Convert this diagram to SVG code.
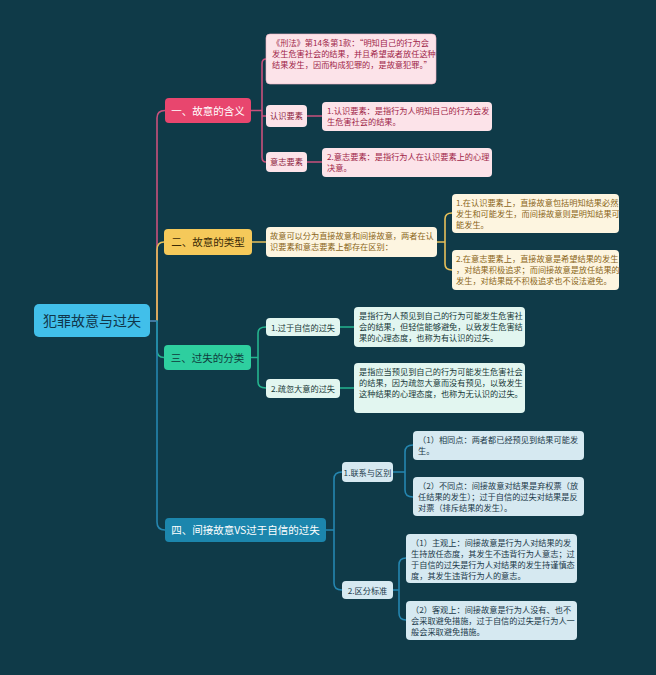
<svg xmlns="http://www.w3.org/2000/svg" width="656" height="675" viewBox="0 0 656 675">
<style>
text{font-family:"Noto Sans CJK SC","Noto Sans",sans-serif}
.c{fill:none;stroke-linecap:round;stroke-linejoin:round}
.pk{stroke:#c9507c;stroke-width:1.6}
.yl{stroke:#e6c05a;stroke-width:1.6}
.gr{stroke:#25b48e;stroke-width:1.6}
.bl{stroke:#2586b0;stroke-width:1.6}
.t{font-size:8.2px}
.m{font-size:10.5px}
</style>
<rect width="656" height="675" fill="#0f3a48"/>
<g id="connectors">
<path class="c pk" d="M150,321 H157 M157,321 V118 Q157,110.5 165,110.5"/>
<path class="c yl" d="M157,321 V250 Q157,242 164,242"/>
<path class="c gr" d="M157,321 V350 Q157,357.5 164,357.5"/>
<path class="c bl" d="M150,321 H157 M157,321 V522 Q157,530 165,530"/>
<path class="c pk" d="M251,110.5 H262 M262,110.5 V64 Q262,59 266,59 M262,110.5 V116 H266 M262,110.5 V157 Q262,162 266,162 M307,116 H322 M307,162 H322"/>
<path class="c yl" d="M252,242 H266 M437,242 H445 M445,242 V219 Q445,213 452,213 M445,242 V264 Q445,270 452,270"/>
<path class="c gr" d="M251,357.5 H258 M258,357.5 V333 Q258,327 266,327 M258,357.5 V382 Q258,388 266,388 M340,327 H354 M340,388 H354"/>
<path class="c bl" d="M326,530 H334 M334,530 V479 Q334,472 342,472 M334,530 V583 Q334,590 342,590 M393,472 H405 M405,472 V452 Q405,445 413,445 M405,472 V490 Q405,497 413,497 M393,590 H399 M399,590 V565 Q399,558 406,558 M399,590 V613 Q399,620 406,620"/>
</g>
<g id="root">
<rect x="34" y="304" width="116" height="33" rx="5" fill="#41bfea"/>
<text x="92" y="326" font-size="14" fill="#10364a" text-anchor="middle">犯罪故意与过失</text>
</g>
<g id="n1">
<rect x="165" y="98" width="86" height="25" rx="4" fill="#e8466e"/>
<text x="208" y="114.5" class="m" fill="#ffffff" text-anchor="middle">一、故意的含义</text>
</g>
<g id="n1-law">
<rect x="266" y="34" width="170" height="50" rx="4" fill="#fce3e9" stroke="#f3b6c6" stroke-width="0.6"/>
<text class="t" fill="#a01f48"><tspan x="272" y="46">《刑法》第14条第1款：“明知自己的行为会</tspan><tspan x="272" y="57">发生危害社会的结果，并且希望或者放任这种</tspan><tspan x="272" y="68">结果发生，因而构成犯罪的，是故意犯罪。”</tspan></text>
</g>
<g id="n1-a">
<rect x="266" y="105" width="41" height="22" rx="4" fill="#fce3e9"/>
<text x="286.5" y="119" class="t" fill="#8c1d40" text-anchor="middle">认识要素</text>
</g>
<g id="n1-a1">
<rect x="322" y="102" width="170" height="29" rx="4" fill="#fce3e9"/>
<text class="t" fill="#a01f48"><tspan x="327" y="114">1.认识要素：是指行为人明知自己的行为会发</tspan><tspan x="327" y="125">生危害社会的结果。</tspan></text>
</g>
<g id="n1-b">
<rect x="266" y="152" width="41" height="20" rx="4" fill="#fce3e9"/>
<text x="286.5" y="165" class="t" fill="#8c1d40" text-anchor="middle">意志要素</text>
</g>
<g id="n1-b1">
<rect x="322" y="148" width="170" height="29" rx="4" fill="#fce3e9"/>
<text class="t" fill="#a01f48"><tspan x="327" y="160">2.意志要素：是指行为人在认识要素上的心理</tspan><tspan x="327" y="171">决意。</tspan></text>
</g>
<g id="n2">
<rect x="164" y="229" width="88" height="26" rx="4" fill="#f5c95a"/>
<text x="208" y="246" class="m" fill="#3a2a06" text-anchor="middle">二、故意的类型</text>
</g>
<g id="n2-a">
<rect x="266" y="227" width="171" height="30" rx="4" fill="#fdf5e0"/>
<text class="t" fill="#8a6518"><tspan x="270" y="239">故意可以分为直接故意和间接故意，两者在认</tspan><tspan x="270" y="250">识要素和意志要素上都存在区别：</tspan></text>
</g>
<g id="n2-a1">
<rect x="452" y="194" width="167" height="39" rx="4" fill="#fdf5e0"/>
<text class="t" fill="#8a6518"><tspan x="456" y="206">1.在认识要素上，直接故意包括明知结果必然</tspan><tspan x="456" y="217">发生和可能发生，而间接故意则是明知结果可</tspan><tspan x="456" y="228">能发生。</tspan></text>
</g>
<g id="n2-a2">
<rect x="452" y="250" width="167" height="40" rx="4" fill="#fdf5e0"/>
<text class="t" fill="#8a6518"><tspan x="456" y="262">2.在意志要素上，直接故意是希望结果的发生</tspan><tspan x="456" y="273">，对结果积极追求；而间接故意是放任结果的</tspan><tspan x="456" y="284">发生，对结果既不积极追求也不设法避免。</tspan></text>
</g>
<g id="n3">
<rect x="164" y="345" width="87" height="25" rx="4" fill="#2ecf9f"/>
<text x="207.5" y="361.5" class="m" fill="#0e3b3c" text-anchor="middle">三、过失的分类</text>
</g>
<g id="n3-a">
<rect x="266" y="318" width="74" height="18" rx="4" fill="#e2f6f0"/>
<text x="303" y="330.5" class="t" fill="#173838" text-anchor="middle">1.过于自信的过失</text>
</g>
<g id="n3-a1">
<rect x="354" y="307" width="171" height="40" rx="4" fill="#e2f6f0"/>
<text class="t" fill="#173838"><tspan x="359" y="319">是指行为人预见到自己的行为可能发生危害社</tspan><tspan x="359" y="330">会的结果，但轻信能够避免，以致发生危害结</tspan><tspan x="359" y="341">果的心理态度，也称为有认识的过失。</tspan></text>
</g>
<g id="n3-b">
<rect x="266" y="379" width="74" height="19" rx="4" fill="#e2f6f0"/>
<text x="303" y="391.5" class="t" fill="#173838" text-anchor="middle">2.疏忽大意的过失</text>
</g>
<g id="n3-b1">
<rect x="354" y="363" width="171" height="50" rx="4" fill="#e2f6f0"/>
<text class="t" fill="#173838"><tspan x="359" y="375">是指应当预见到自己的行为可能发生危害社会</tspan><tspan x="359" y="386">的结果，因为疏忽大意而没有预见，以致发生</tspan><tspan x="359" y="397">这种结果的心理态度，也称为无认识的过失。</tspan></text>
</g>
<g id="n4">
<rect x="165" y="518" width="161" height="24" rx="4" fill="#1c86ad"/>
<text x="245.5" y="534" class="m" fill="#ffffff" text-anchor="middle">四、间接故意VS过于自信的过失</text>
</g>
<g id="n4-a">
<rect x="342" y="462" width="51" height="20" rx="4" fill="#d6e9f1"/>
<text x="367.5" y="475.5" class="t" fill="#1c3a4a" text-anchor="middle">1.联系与区别</text>
</g>
<g id="n4-a1">
<rect x="413" y="431" width="171" height="29" rx="4" fill="#d6e9f1"/>
<text class="t" fill="#1c3a4a"><tspan x="418" y="443">（1）相同点：两者都已经预见到结果可能发</tspan><tspan x="418" y="454">生。</tspan></text>
</g>
<g id="n4-a2">
<rect x="413" y="477" width="171" height="39" rx="4" fill="#d6e9f1"/>
<text class="t" fill="#1c3a4a"><tspan x="418" y="489">（2）不同点：间接故意对结果是弃权票（放</tspan><tspan x="418" y="500">任结果的发生）；过于自信的过失对结果是反</tspan><tspan x="418" y="511">对票（排斥结果的发生）。</tspan></text>
</g>
<g id="n4-b">
<rect x="342" y="581" width="51" height="18" rx="4" fill="#d6e9f1"/>
<text x="367.5" y="593.5" class="t" fill="#1c3a4a" text-anchor="middle">2.区分标准</text>
</g>
<g id="n4-b1">
<rect x="406" y="534" width="171" height="49" rx="4" fill="#d6e9f1"/>
<text class="t" fill="#1c3a4a"><tspan x="411" y="546">（1）主观上：间接故意是行为人对结果的发</tspan><tspan x="411" y="557">生持放任态度，其发生不违背行为人意志；过</tspan><tspan x="411" y="568">于自信的过失是行为人对结果的发生持谨慎态</tspan><tspan x="411" y="579">度，其发生违背行为人的意志。</tspan></text>
</g>
<g id="n4-b2">
<rect x="406" y="601" width="171" height="39" rx="4" fill="#d6e9f1"/>
<text class="t" fill="#1c3a4a"><tspan x="411" y="613">（2）客观上：间接故意是行为人没有、也不</tspan><tspan x="411" y="624">会采取避免措施，过于自信的过失是行为人一</tspan><tspan x="411" y="635">般会采取避免措施。</tspan></text>
</g>
</svg>
